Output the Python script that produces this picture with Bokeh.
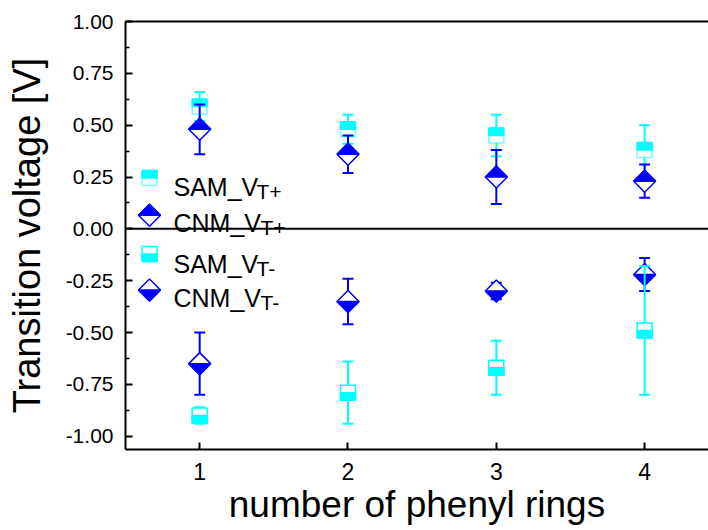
import math
from bokeh.plotting import figure
from bokeh.models import Range1d, FixedTicker, LinearAxis, Span, Label, NumeralTickFormatter
from bokeh.embed import file_html
from bokeh.resources import INLINE

# ---------------- data ----------------
phenyl_rings = [1, 2, 3, 4]
sam_vt_plus = [0.59, 0.48, 0.45, 0.38]
sam_vt_plus_err = [0.07, 0.07, 0.10, 0.12]
cnm_vt_plus = [0.48, 0.36, 0.25, 0.23]
cnm_vt_plus_err = [0.12, 0.09, 0.13, 0.08]
sam_vt_minus = [-0.90, -0.79, -0.67, -0.49]
sam_vt_minus_err = [0.04, 0.15, 0.13, 0.31]
cnm_vt_minus = [-0.65, -0.35, -0.30, -0.22]
cnm_vt_minus_err = [0.15, 0.11, 0.04, 0.08]
y_ticks = [-1.0, -0.75, -0.5, -0.25, 0.0, 0.25, 0.5, 0.75, 1.0]
x_ticks = [1, 2, 3, 4]

# ---------------- geometry / style ----------------
CYAN = "#00FFFF"
BLUE = "#0000FF"
FONT = "Liberation Sans"
W, H = 708, 530
FL, FT, FB = 125, 21, 449
FR = W
PX_PER_X = 148.33
X0 = 0.5
X1 = X0 + (FR - FL) / PX_PER_X
Y0, Y1 = -1.064, 1.0
PX_PER_Y = (FB - FT) / (Y1 - Y0)


def cx(px):
    return X0 + (px - FL) / PX_PER_X


def cy(py):
    return Y1 - (py - FT) / PX_PER_Y


def dx(px):
    return px / PX_PER_X


def dy(py):
    return py / PX_PER_Y


p = figure(width=W, height=H, x_range=Range1d(X0, X1), y_range=Range1d(Y0, Y1),
           output_backend="svg", toolbar_location=None,
           min_border_left=FL, min_border_right=0, min_border_top=FT,
           min_border_bottom=H - FB)
p.outline_line_color = None
p.xgrid.visible = False
p.ygrid.visible = False
p.background_fill_color = "white"
p.border_fill_color = "white"

# axes
for ax in (p.xaxis[0], p.yaxis[0]):
    ax.axis_line_width = 2
    ax.axis_line_color = "black"
    ax.major_tick_line_width = 2
    ax.major_tick_line_color = "black"
    ax.minor_tick_line_width = 1.5
    ax.minor_tick_line_color = "black"
    ax.major_tick_in = 7
    ax.major_tick_out = 0
    ax.minor_tick_in = 4
    ax.minor_tick_out = 0
    ax.major_label_text_font = FONT
    ax.major_label_text_color = "black"
    ax.axis_label_text_font = FONT
    ax.axis_label_text_font_style = "normal"
    ax.axis_label_text_color = "black"

minor_y = [(a + b) / 2 for a, b in zip(y_ticks[:-1], y_ticks[1:])]
p.yaxis[0].ticker = FixedTicker(ticks=y_ticks, minor_ticks=minor_y)
p.yaxis[0].formatter = NumeralTickFormatter(format="0.00")
p.yaxis[0].major_label_text_font_size = "21px"
p.yaxis[0].major_label_standoff = 12
p.yaxis[0].axis_label = "Transition voltage [V]"
p.yaxis[0].axis_label_text_font_size = "38px"
p.yaxis[0].axis_label_standoff = 15

p.xaxis[0].ticker = FixedTicker(ticks=x_ticks)
p.xaxis[0].major_label_text_font_size = "23px"
p.xaxis[0].major_label_standoff = 13
p.xaxis[0].minor_tick_line_color = None
p.xaxis[0].axis_label = "number of phenyl rings"
p.xaxis[0].axis_label_text_font_size = "37px"
p.xaxis[0].axis_label_standoff = 1

top_ax = LinearAxis(ticker=FixedTicker(ticks=[]), axis_line_width=2, axis_line_color="black",
                    major_tick_out=0, minor_tick_out=0, major_tick_in=0, minor_tick_in=0,
                    major_label_text_font_size="0px")
p.add_layout(top_ax, "above")

p.add_layout(Span(location=0, dimension="width", line_color="black", line_width=2))

SQ = 15
DM = 22


def draw_marker(xs, ys, color, kind, filled_top, outline_alpha=1.0):
    if kind == "square":
        hx, hy = dx(SQ / 2), dy(SQ / 2)
        p.quad(left=[x - hx for x in xs], right=[x + hx for x in xs],
               top=[y + hy for y in ys], bottom=[y - hy for y in ys],
               fill_color="white", line_color=color, line_width=1.5, line_alpha=outline_alpha)
        if filled_top:
            p.quad(left=[x - hx for x in xs], right=[x + hx for x in xs],
                   top=[y + hy for y in ys], bottom=ys,
                   fill_color=color, line_color=color, line_width=1.5)
        else:
            p.quad(left=[x - hx for x in xs], right=[x + hx for x in xs],
                   top=ys, bottom=[y - hy for y in ys],
                   fill_color=color, line_color=color, line_width=1.5)
    else:
        ax_, ay_ = dx(DM / 2), dy(DM / 2)
        p.patches(xs=[[x - ax_, x, x + ax_, x] for x in xs],
                  ys=[[y, y + ay_, y, y - ay_] for y in ys],
                  fill_color="white", line_color=color, line_width=1.5)
        if filled_top:
            p.patches(xs=[[x - ax_, x, x + ax_] for x in xs],
                      ys=[[y, y + ay_, y] for y in ys],
                      fill_color=color, line_color=color, line_width=1.5)
        else:
            p.patches(xs=[[x - ax_, x + ax_, x] for x in xs],
                      ys=[[y, y, y - ay_] for y in ys],
                      fill_color=color, line_color=color, line_width=1.5)


def draw_series(xs, ys, errs, color, kind, filled_top, outline_alpha=1.0):
    lo = [y - e for y, e in zip(ys, errs)]
    hi = [y + e for y, e in zip(ys, errs)]
    p.segment(x0=xs, y0=lo, x1=xs, y1=hi, line_color=color, line_width=2)
    p.scatter(x=xs + xs, y=lo + hi, marker="dash", size=11, line_color=color, line_width=2)
    draw_marker(xs, ys, color, kind, filled_top, outline_alpha)


draw_series(phenyl_rings, sam_vt_plus, sam_vt_plus_err, CYAN, "square", True, 0.55)
draw_series(phenyl_rings, cnm_vt_plus, cnm_vt_plus_err, BLUE, "diamond", True)
draw_series(phenyl_rings, cnm_vt_minus, cnm_vt_minus_err, BLUE, "diamond", False)
draw_series(phenyl_rings, sam_vt_minus, sam_vt_minus_err, CYAN, "square", False)

# ---------------- legend (drawn by hand) ----------------
legend_rows = [
    ("SAM_V", "T+", CYAN, "square", True, 177.5, 186, 191, 256, 0.55),
    ("CNM_V", "T+", BLUE, "diamond", True, 214.7, 222, 227, 260, 1.0),
    ("SAM_V", "T-", CYAN, "square", False, 253.5, 263, 267.5, 256, 1.0),
    ("CNM_V", "T-", BLUE, "diamond", False, 289.5, 297, 302, 260, 1.0),
]
for main, sub, color, kind, ftop, sym_y, base, sub_base, sub_x, oa in legend_rows:
    draw_marker([cx(149)], [cy(sym_y)], color, kind, ftop, oa)
    p.add_layout(Label(x=cx(173), y=cy(base), text=main, text_font=FONT, text_font_size="25px",
                       text_baseline="alphabetic", text_align="left", text_color="black"))
    p.add_layout(Label(x=cx(sub_x), y=cy(sub_base), text=sub, text_font=FONT, text_font_size="21px",
                       text_baseline="alphabetic", text_align="left", text_color="black"))

open("out.html", "w").write(file_html(p, INLINE))
